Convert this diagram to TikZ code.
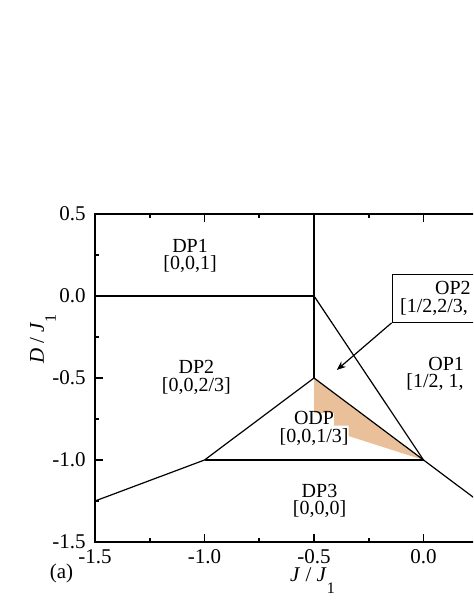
\documentclass[tikz,border=0pt]{standalone}
\usepackage{fontspec}
\setmainfont{Liberation Serif}
\usetikzlibrary{positioning, arrows.meta}
\definecolor{odpfill}{RGB}{233,192,153}

\begin{document}
\begin{tikzpicture}[
    x=109.5pt, y=82pt,
    frame/.style={line width=0.9pt},
    boundary/.style={line width=0.6pt},
    phase/.style={align=center, inner sep=0pt, font=\fontsize{10}{8.8}\selectfont},
    ticklabel/.style={inner sep=0pt, font=\fontsize{10.5}{12}\selectfont},
    callout/.style={draw, fill=white, line width=0.6pt, anchor=north west,
    minimum height=23.85pt, text width=60pt, align=left, inner xsep=4pt,
    inner ysep=0pt, font=\fontsize{10}{8.8}\selectfont},
    arrow/.style={-{Stealth[length=4.5pt, width=3.6pt]}, line width=0.6pt}
]
\useasboundingbox (-1.934,-1.933) rectangle (0.226,1.805);
\clip (-1.934,-1.933) rectangle (0.226,1.805);

\coordinate (topmid) at (-0.5,0.5);
\coordinate (leftzero) at (-1.5,0);
\coordinate (triple) at (-0.5,0);
\coordinate (odptop) at (-0.5,-0.5);
\coordinate (odpright) at (0,-1);
\coordinate (dpleft) at (-1,-1);
\coordinate (leftlow) at (-1.5,-1.25);
\coordinate (rightlow) at (0.35,-1.35);

\fill[odpfill] (odptop) -- (odpright) -- (-0.342,-0.854) -- (-0.342,-0.79)
    -- (-0.408,-0.79) -- (-0.408,-0.712) -- (-0.5,-0.712) -- cycle;

\draw[boundary] (leftzero) -- (triple);
\draw[boundary] (topmid) -- (odptop);
\draw[boundary] (triple) -- (odpright) -- (rightlow);
\draw[boundary] (odptop) -- (dpleft) -- (leftlow);
\draw[boundary] (dpleft) -- (odpright);
\draw[boundary] (odptop) -- (odpright);

\draw[frame] (-1.5,-1.5) rectangle (0.5,0.5);
\foreach \x in {-1.5,-1,...,0} {
    \draw[frame] (\x,-1.5) -- ++(0,3.8pt);
    \draw[frame] (\x,0.5) -- ++(0,-3.8pt);
}
\foreach \x in {-1.25,-0.75,...,-0.25} {
    \draw[frame] (\x,-1.5) -- ++(0,1.9pt);
    \draw[frame] (\x,0.5) -- ++(0,-1.9pt);
}
\foreach \y in {-1.5,-1,...,0.5}
    \draw[frame] (-1.5,\y) -- ++(3.8pt,0);
\foreach \y in {-1.25,-0.75,...,0.25}
    \draw[frame] (-1.5,\y) -- ++(1.9pt,0);

\foreach \x/\lab [count=\i] in {-1.5/-1.5, -1/-1.0, -0.5/-0.5, 0/0.0}
    \node[ticklabel, below=3.5pt] (xtick\i) at (\x,-1.5) {\lab};
\foreach \y/\lab [count=\i] in {0.5/0.5, 0/0.0, -0.5/-0.5, -1/-1.0, -1.5/-1.5}
    \node[ticklabel, left=4.5pt] (ytick\i) at (-1.5,\y) {\lab};

\node[ticklabel] (xlabel) at (-0.507,-1.738) {\textit{J} / \textit{J}\raisebox{-6pt}{\footnotesize 1}};
\node[ticklabel, rotate=90] (ylabel) at (-1.738,-0.262) {\textit{D} / \textit{J}\raisebox{-6pt}{\footnotesize 1}};
\node[ticklabel] (panel) at (-1.653,-1.689) {(a)};

\node[phase] (dp1) at (-1.066,0.244) {DP1\\{[0,0,1]}};
\node[phase] (dp2) at (-1.037,-0.497) {DP2\\{[0,0,2/3]}};
\node[phase] (odp) at (-0.5,-0.808) {ODP\\{[0,0,1/3]}};
\node[phase] (dp3) at (-0.475,-1.25) {DP3\\{[0,0,0]}};
\node[phase, align=left, anchor=west] (op1) at (-0.080,-0.476)
    {\hspace*{11pt}OP1\\{[1/2, 1,}};

\node[callout] (op2) at (-0.146,0.134) {\hspace*{17.5pt}OP2\\{[1/2,2/3,}};
\coordinate (op2tip) at (-0.396,-0.451);
\draw[arrow] (op2.south west) -- (op2tip);

\end{tikzpicture}
\end{document}
